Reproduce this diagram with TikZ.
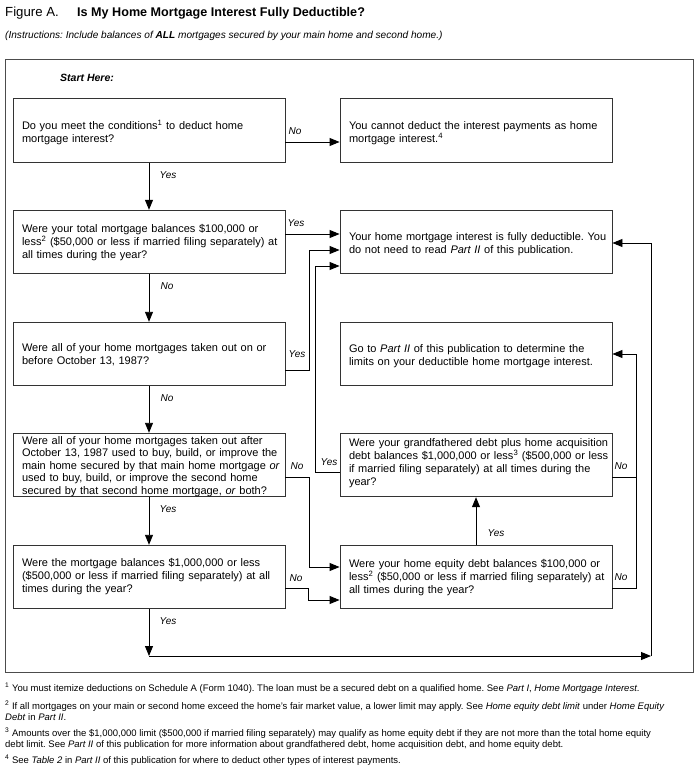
\documentclass[tikz,border=0pt]{standalone}
\usepackage{fontspec}
\setmainfont{Liberation Sans}
\usetikzlibrary{arrows.meta}
\frenchspacing
\begin{document}
\begin{tikzpicture}[x=1pt,y=-1pt,
 box/.style={draw=black!80, line width=0.9pt, minimum width=272pt, minimum height=63.5pt, text width=254pt, inner xsep=9pt, inner ysep=0pt, align=left, font=\fontsize{11}{13}\selectfont},
 off/.style 2 args={text height=#1, text depth=#2},
 lab/.style={font=\fontsize{10}{12}\selectfont\itshape, inner sep=0pt},
 arr/.style={draw=black, line width=0.9pt, -{Triangle[length=10pt,width=8pt]}},
 ln/.style={draw=black, line width=0.9pt},
 fn/.style={font=\fontsize{9.5}{11.5}\selectfont, inner sep=0pt, anchor=base west, align=left}]
\useasboundingbox (0,0) rectangle (699,767);
\fill[white] (0,0) rectangle (699,767);
% title
\node[inner sep=0pt, anchor=base west, font=\fontsize{13.2}{15}\selectfont] (fig) at (5,16.5) {Figure A.};
\node[inner sep=0pt, anchor=base west, font=\fontsize{12.6}{14}\selectfont\bfseries] (title) at (77,16.5) {Is My Home Mortgage Interest Fully Deductible?};
\node[inner sep=0pt, anchor=base west, font=\fontsize{10.1}{12}\selectfont\itshape] (instr) at (5,38.5) {(Instructions: Include balances of \textbf{ALL} mortgages secured by your main home and second home.)};
% frame
\draw[black!70, line width=1pt] (5,60) rectangle (693,672);
\node[inner sep=0pt, anchor=base west, font=\fontsize{10.5}{12}\selectfont\bfseries\itshape] (start) at (60,82) {Start Here:};
% boxes
\node[box, off={30.5pt}{33pt}] (L1) at (149,130.5) {Do you meet the conditions\textsuperscript{1} to deduct home\\mortgage interest?};
\node[box, off={30.5pt}{33pt}] (R1) at (476,130.5) {You cannot deduct the interest payments as home\\mortgage interest.\textsuperscript{4}};
\node[box, off={22pt}{41.5pt}] (L2) at (149,242) {\mbox{Were your total mortgage balances \$100,000 or}\\\mbox{less\textsuperscript{2} (\$50,000 or less if married filing separately) at}\\all times during the year?};
\node[box, off={30.5pt}{33pt}] (R2) at (476,242) {\mbox{Your home mortgage interest is fully deductible. You}\\do not need to read \textit{Part II} of this publication.};
\node[box, off={29.5pt}{34pt}] (L3) at (149,354) {Were all of your home mortgages taken out on or\\before October 13, 1987?};
\node[box, off={30pt}{33.5pt}] (R3) at (476,354) {\mbox{Go to \textit{Part II} of this publication to determine the}\\limits on your deductible home mortgage interest.};
\node[box, off={11pt}{52.5pt}, font=\fontsize{11}{12.5}\selectfont] (L4) at (149,465) {\mbox{Were all of your home mortgages taken out after}\\\mbox{October 13, 1987 used to buy, build, or improve the}\\\mbox{main home secured by that main home mortgage \textit{or}}\\\mbox{used to buy, build, or improve the second home}\\\mbox{secured by that second home mortgage, \textit{or} both?}};
\node[box, off={13pt}{50.5pt}] (R4) at (476,465) {\mbox{Were your grandfathered debt plus home acquisition}\\\mbox{debt balances \$1,000,000 or less\textsuperscript{3} (\$500,000 or less}\\\mbox{if married filing separately) at all times during the}\\year?};
\node[box, off={21.5pt}{42pt}] (L5) at (149,577) {\mbox{Were the mortgage balances \$1,000,000 or less}\\\mbox{(\$500,000 or less if married filing separately) at all}\\times during the year?};
\node[box, off={22pt}{41.5pt}] (R5) at (476,577) {\mbox{Were your home equity debt balances \$100,000 or}\\\mbox{less\textsuperscript{2} (\$50,000 or less if married filing separately) at}\\all times during the year?};
% connectors
\draw[arr] ([yshift=-11.5pt]L1.east) -- ([yshift=-11.5pt]R1.west);
\draw[arr] (L1.south) -- (L2.north);
\draw[arr] ([yshift=8pt]L2.east) -- ([yshift=8pt]R2.west);
\draw[arr] (L2.south) -- (L3.north);
\draw[arr] ([yshift=-16pt]L3.east) -- ++(24,0) |- ([yshift=-8pt]R2.west);
\draw[arr] (L3.south) -- (L4.north);
\draw[arr] ([yshift=-12pt]L4.east) -- ++(24,0) |- ([yshift=10pt]R5.west);
\draw[arr] (L4.south) -- (L5.north);
\draw[arr] ([yshift=-11pt]L5.east) -- ++(23,0) |- ([yshift=-23pt]R5.west);
\coordinate (bot) at (L5.south |- 0,656);
\coordinate (corner) at (651,656);
\draw[arr] (L5.south) -- (bot);
\draw[arr] (bot) -- (corner);
\draw[arr] (corner) |- ([yshift=-1pt]R2.east);
\draw[arr] ([yshift=-7pt]R4.west) -- ++(-24,0) |- ([yshift=-24pt]R2.west);
\draw[arr] (R5.north) -- (R4.south);
\draw[arr] ([yshift=-12pt]R4.east) -- ++(24,0) |- (R3.east);
\draw[ln] ([yshift=-11pt]R5.east) -| ([xshift=24pt,yshift=-12pt]R4.east);
% labels
\node[lab] (t1) at (295,131) {No};
\node[lab] (t2) at (168,175) {Yes};
\node[lab] (t3) at (296,223) {Yes};
\node[lab] (t4) at (167,286) {No};
\node[lab] (t5) at (297,354) {Yes};
\node[lab] (t6) at (167,398) {No};
\node[lab] (t7) at (297,466) {No};
\node[lab] (t8) at (168,509) {Yes};
\node[lab] (t9) at (296,578) {No};
\node[lab] (t10) at (168,621) {Yes};
\node[lab] (t11) at (329,462) {Yes};
\node[lab] (t12) at (496,533) {Yes};
\node[lab] (t13) at (621,466) {No};
\node[lab] (t14) at (621,577) {No};
% footnotes
\node[fn] (f1) at (5,691.5) {\textsuperscript{1} You must itemize deductions on Schedule A (Form 1040). The loan must be a secured debt on a qualified home. See \textit{Part I}, \textit{Home Mortgage Interest}.};
\node[fn] (f2) at (5,720.5) {\textsuperscript{2} If all mortgages on your main or second home exceed the home's fair market value, a lower limit may apply. See \textit{Home equity debt limit} under \textit{Home Equity}\\\textit{Debt} in \textit{Part II}.};
\node[fn] (f3) at (5,747.5) {\textsuperscript{3} Amounts over the \$1,000,000 limit (\$500,000 if married filing separately) may qualify as home equity debt if they are not more than the total home equity\\debt limit. See \textit{Part II} of this publication for more information about grandfathered debt, home acquisition debt, and home equity debt.};
\node[fn] (f4) at (5,763.5) {\textsuperscript{4} See \textit{Table 2} in \textit{Part II} of this publication for where to deduct other types of interest payments.};
\end{tikzpicture}
\end{document}
